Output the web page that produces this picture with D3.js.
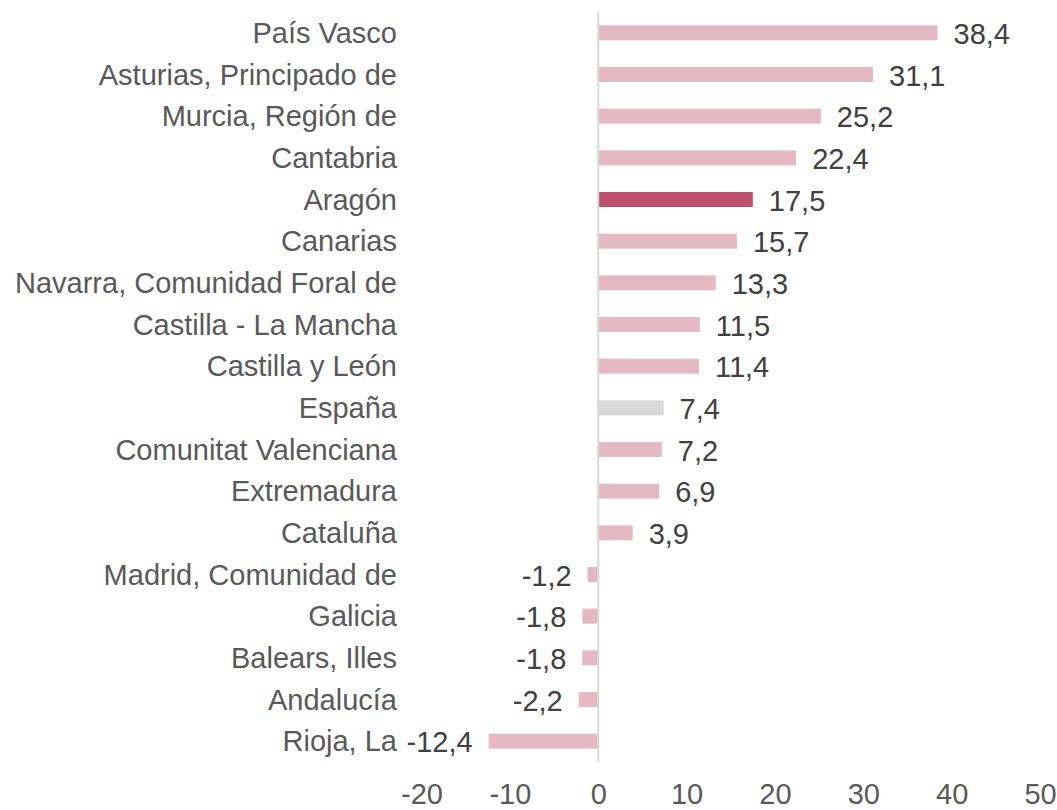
<!DOCTYPE html>
<html>
<head>
<meta charset="utf-8">
<script src="https://cdn.jsdelivr.net/npm/d3@7"></script>
<style>
    body { margin: 0; background: #fff; }
    #chart { width: 1057px; height: 810px; }
</style>
</head>
<body>
<div id="chart"></div>
<script>
// Data
const regions = [
    "País Vasco", "Asturias, Principado de", "Murcia, Región de", "Cantabria", "Aragón",
    "Canarias", "Navarra, Comunidad Foral de", "Castilla - La Mancha", "Castilla y León",
    "España", "Comunitat Valenciana", "Extremadura", "Cataluña", "Madrid, Comunidad de",
    "Galicia", "Balears, Illes", "Andalucía", "Rioja, La"
];
const values = [38.4, 31.1, 25.2, 22.4, 17.5, 15.7, 13.3, 11.5, 11.4, 7.4, 7.2, 6.9, 3.9, -1.2, -1.8, -1.8, -2.2, -12.4];
const tickValues = [-20, -10, 0, 10, 20, 30, 40, 50];

function regionBarChart({ className,
    font_family = 'Liberation Sans, Arial, sans-serif', font_size = 29,
    label_color = '#595959', value_color = '#404040', tick_color = '#595959',
    bar_color = '#E4B9C3', highlight_color = '#BE4F6A', total_color = '#D9D9D9' }
) {
    const { width: width, height: height } = d3.select(className).node().getBoundingClientRect();

    const svg = d3.select(className).append("svg")
        .attr("width", width)
        .attr("height", height);

    const data = regions.map((r, i) => ({ region: r, value: values[i] }));

    const xScale = d3.scaleLinear()
        .domain([-20, 50])
        .range([421.5, 1040]);

    const yScale = d3.scaleBand()
        .domain(regions)
        .range([12, 762])
        .paddingInner(0.64)
        .paddingOuter(0.32);

    const fmt = v => d3.format(".1f")(v).replace(".", ",").replace("−", "-");

    const colorOf = d => d.region === "Aragón" ? highlight_color
        : d.region === "España" ? total_color : bar_color;

    // Bars
    svg.append("g").selectAll("rect")
        .data(data)
        .join("rect")
        .attr("x", d => xScale(Math.min(0, d.value)))
        .attr("y", d => yScale(d.region))
        .attr("width", d => Math.abs(xScale(d.value) - xScale(0)))
        .attr("height", yScale.bandwidth())
        .attr("fill", colorOf);

    // Zero line
    svg.append("line")
        .attr("x1", xScale(0)).attr("x2", xScale(0))
        .attr("y1", 12).attr("y2", 762)
        .attr("stroke", "#D9D9D9")
        .attr("stroke-width", 2);

    // Category labels
    svg.append("g").selectAll("text")
        .data(data)
        .join("text")
        .attr("x", 397)
        .attr("y", d => yScale(d.region) + yScale.bandwidth() / 2)
        .attr("dy", "0.35em")
        .attr("text-anchor", "end")
        .attr("fill", label_color)
        .attr("font-family", font_family)
        .attr("font-size", font_size)
        .text(d => d.region);

    // Value labels
    svg.append("g").selectAll("text")
        .data(data)
        .join("text")
        .attr("x", d => d.value >= 0 ? xScale(d.value) + 16 : xScale(d.value) - 16)
        .attr("y", d => yScale(d.region) + yScale.bandwidth() / 2)
        .attr("dy", "0.38em")
        .attr("text-anchor", d => d.value >= 0 ? "start" : "end")
        .attr("fill", value_color)
        .attr("font-family", font_family)
        .attr("font-size", font_size)
        .text(d => fmt(d.value));

    // X axis (labels only, kept inside the bottom edge)
    const xAxis = svg.append("g")
        .attr("transform", "translate(0, 783)")
        .call(d3.axisBottom(xScale).tickValues(tickValues).tickSize(0).tickPadding(0).tickFormat(d => String(d)));
    xAxis.select(".domain").remove();
    xAxis.selectAll("text")
        .attr("y", 21)
        .attr("dy", "0")
        .style("font-size", font_size + "px")
        .style("fill", tick_color)
        .style("font-family", font_family);
}

regionBarChart({ className: "#chart" });
</script>
</body>
</html>
